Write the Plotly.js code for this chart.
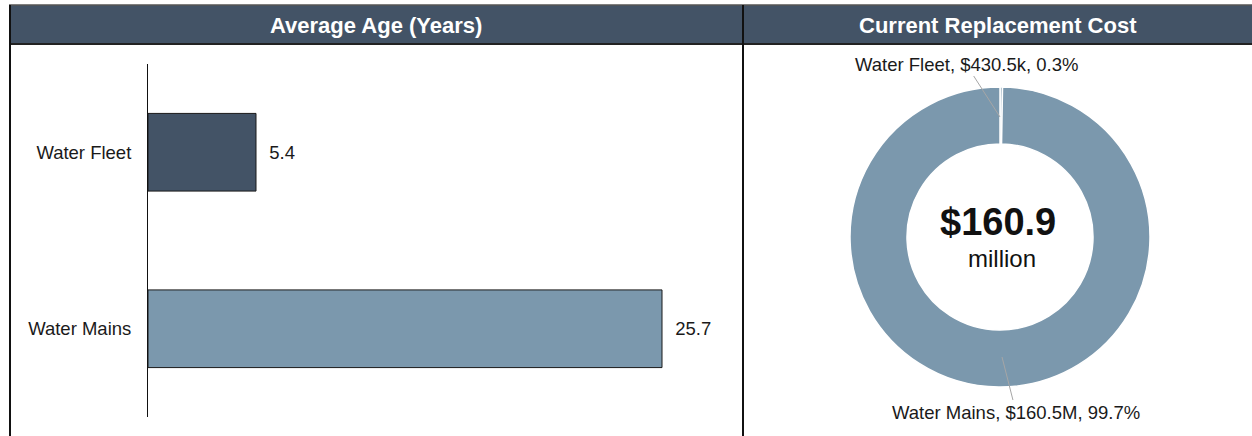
<!DOCTYPE html>
<html><head><meta charset="utf-8">
<script src="https://cdn.plot.ly/plotly-3.0.1.min.js"></script>
<style>html,body{margin:0;padding:0;background:#fff}#c{width:1252px;height:436px}</style>
</head><body><div id="c"></div>
<script>
const categories = ["Water Fleet", "Water Mains"];
const avgAge = [5.4, 25.7];
const barColors = ["#435366", "#7b98ad"];
const costLabels = ["Water Fleet", "Water Mains"];
const costValues = [0.4305, 160.5];        // $ millions
const costText = ["$430.5k", "$160.5M"];
const costPct = ["0.3%", "99.7%"];
const totalText = "$160.9";
const totalUnit = "million";
const panelTitles = ["Average Age (Years)", "Current Replacement Cost"];

const W = 1252, H = 436;
const px = x => x / W, py = y => 1 - y / H;
const FONT = "Liberation Sans, Arial, sans-serif";
const LBL = 18.5;

const bar = {
  type: "bar", orientation: "h", x: avgAge, y: categories,
  marker: {color: barColors, line: {color: "#1a1a1a", width: 1}},
  width: 0.44,
  texttemplate: "\u00a0\u00a0%{x:.1f}", textposition: "outside",
  textfont: {family: FONT, size: LBL, color: "#1a1a1a"},
  cliponaxis: false, hoverinfo: "skip", xaxis: "x", yaxis: "y"
};
const pie = {
  type: "pie", labels: costLabels, values: costValues,
  sort: false, direction: "clockwise", rotation: 0, hole: 0.62,
  marker: {colors: ["#7b98ad", "#7b98ad"], line: {color: "#ffffff", width: 1.5}},
  textinfo: "none",
  domain: {x: [px(850), px(1150)], y: [py(387), py(87)]},
  showlegend: false, hoverinfo: "skip"
};

const shapes = [
  {type: "rect", xref: "paper", yref: "paper", x0: px(9), x1: 1, y0: py(44), y1: py(5), fillcolor: "#435366", line: {width: 0}, layer: "below"},
  {type: "line", xref: "paper", yref: "paper", x0: px(9), x1: 1, y0: py(5), y1: py(5), line: {color: "#555555", width: 1.5}},
  {type: "line", xref: "paper", yref: "paper", x0: px(9), x1: 1, y0: py(44), y1: py(44), line: {color: "#222222", width: 2}},
  {type: "line", xref: "paper", yref: "paper", x0: px(10), x1: px(10), y0: 0, y1: py(5), line: {color: "#111111", width: 2}},
  {type: "line", xref: "paper", yref: "paper", x0: px(743), x1: px(743), y0: 0, y1: py(5), line: {color: "#111111", width: 2}}
];

const A = (o) => Object.assign({xref: "paper", yref: "paper", xanchor: "center", yanchor: "middle", showarrow: false}, o);
const annotations = [
  A({text: "<b>" + panelTitles[0] + "</b>", x: px(376), y: py(26), font: {family: FONT, size: 22, color: "#ffffff"}}),
  A({text: "<b>" + panelTitles[1] + "</b>", x: px(998), y: py(26), font: {family: FONT, size: 22, color: "#ffffff"}}),
  A({text: "<b>" + totalText + "</b>", x: px(998), y: py(222), font: {family: FONT, size: 38, color: "#111111"}}),
  A({text: totalUnit, x: px(1002), y: py(258), font: {family: FONT, size: 24, color: "#111111"}}),
  A({text: costLabels[0] + ", " + costText[0] + ", " + costPct[0], x: px(1000), y: py(117),
     showarrow: true, arrowhead: 0, arrowwidth: 1, arrowcolor: "#a6a6a6", ax: -34, ay: -53,
     font: {family: FONT, size: LBL, color: "#1a1a1a"}}),
  A({text: costLabels[1] + ", " + costText[1] + ", " + costPct[1], x: px(1002), y: py(357),
     showarrow: true, arrowhead: 0, arrowwidth: 1, arrowcolor: "#a6a6a6", ax: 14, ay: 55,
     font: {family: FONT, size: LBL, color: "#1a1a1a"}})
];

const layout = {
  width: W, height: H, margin: {l: 0, r: 0, t: 0, b: 0},
  paper_bgcolor: "#ffffff", plot_bgcolor: "#ffffff", showlegend: false,
  font: {family: FONT, size: LBL, color: "#1a1a1a"},
  xaxis: {domain: [px(148), px(748)], range: [0, 30], visible: false, fixedrange: true},
  yaxis: {domain: [py(417), py(64)], type: "category", autorange: "reversed",
          showline: true, linecolor: "#111111", linewidth: 1, ticks: "", showgrid: false,
          tickfont: {family: FONT, size: LBL, color: "#1a1a1a"}, ticklabelstandoff: 12},
  shapes: shapes, annotations: annotations
};

Plotly.newPlot("c", [bar, pie], layout, {displayModeBar: false, staticPlot: true});
</script></body></html>
